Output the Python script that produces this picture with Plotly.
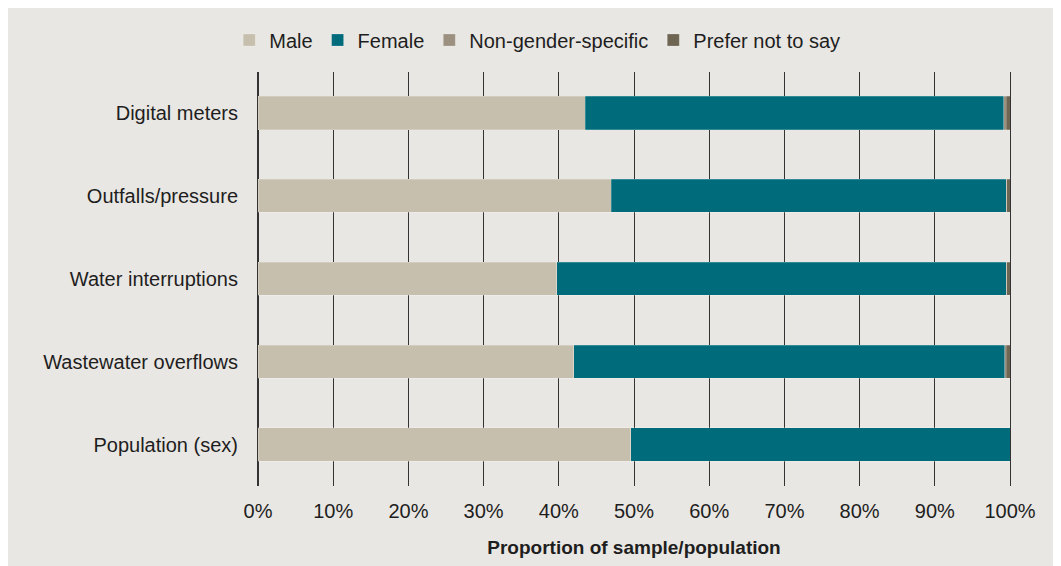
import plotly.graph_objects as go

categories = ["Digital meters", "Outfalls/pressure", "Water interruptions",
              "Wastewater overflows", "Population (sex)"]
male = [43.5, 47.0, 39.7, 42.0, 49.6]
female = [55.7, 52.5, 59.8, 57.3, 50.4]
non_gender = [0.3, 0.1, 0.1, 0.2, 0.0]
prefer_not = [0.5, 0.4, 0.4, 0.5, 0.0]
series_names = ["Male", "Female", "Non-gender-specific", "Prefer not to say"]
series_values = [male, female, non_gender, prefer_not]
colors = ["#c6bfad", "#006b7a", "#9c9080", "#6e6552"]
x_ticks = list(range(0, 101, 10))

W, H = 1048, 558
ml, mr, mt, mb = 250, 46, 57, 80
bg = "#e9e7e3"
font_family = "Liberation Sans, Arial, sans-serif"
txt = "#1e1e1e"

fig = go.Figure()
for name, vals, col in zip(series_names, series_values, colors):
    fig.add_trace(go.Bar(
        y=categories, x=vals, name=name, orientation="h",
        marker=dict(color=col, line=dict(color="rgba(255,255,255,0.35)", width=0.6)),
        hovertemplate="%{y}: %{x}%<extra>" + name + "</extra>",
    ))

fig.update_layout(
    width=W, height=H,
    margin=dict(l=ml, r=mr, t=mt, b=mb),
    barmode="stack", bargap=0.6,
    paper_bgcolor=bg, plot_bgcolor=bg,
    font=dict(family=font_family, size=20, color=txt),
    legend=dict(orientation="h", xref="container", x=0.505, xanchor="center",
                yref="container", y=1 - 32 / H, yanchor="middle",
                font=dict(size=20), traceorder="normal",
                itemwidth=30, bgcolor="rgba(0,0,0,0)"),
    showlegend=True,
)
fig.update_xaxes(
    range=[0, 100], tickvals=x_ticks, ticktext=[f"{v}%" for v in x_ticks],
    showgrid=True, gridcolor="#333333", gridwidth=1,
    zeroline=True, zerolinecolor="#333333", zerolinewidth=1,
    ticks="", ticklabelstandoff=11, tickfont=dict(size=20),
    title=dict(text="<b>Proportion of sample/population</b>", font=dict(size=19), standoff=19),
    fixedrange=True,
)
fig.update_yaxes(
    categoryorder="array", categoryarray=categories, autorange="reversed",
    showline=True, mirror=True, linecolor="#333333", linewidth=1,
    showgrid=False, ticks="", ticklabelstandoff=15, tickfont=dict(size=20),
    fixedrange=True,
)
fig.write_html("out.html")
